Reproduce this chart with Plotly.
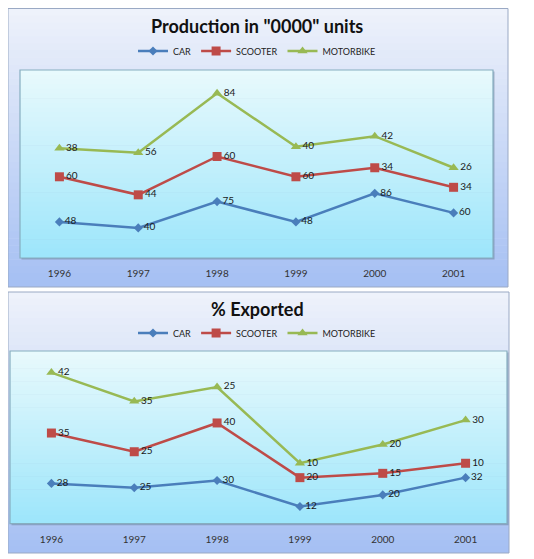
import plotly.graph_objects as go
import numpy as np

years = ['1996', '1997', '1998', '1999', '2000', '2001']
series_names = ['CAR', 'SCOOTER', 'MOTORBIKE']

prod_car = [48, 40, 75, 48, 86, 60]
prod_scooter = [60, 44, 60, 60, 34, 34]
prod_motorbike = [38, 56, 84, 40, 42, 26]

exp_car = [28, 25, 30, 12, 20, 32]
exp_scooter = [35, 25, 40, 20, 15, 10]
exp_motorbike = [42, 35, 25, 10, 20, 30]

title_top = 'Production in "0000" units'
title_bottom = '% Exported'

colors = ['#4a7ebb', '#be4b48', '#98b954']
symbols = ['diamond', 'square', 'triangle-up']
msizes = [7, 9, 9]

# the page body has an 8px margin, so the figure is offset by 8px
OFF = 8
W, H = 534 - OFF, 559 - OFF
FONT = 'Lato'


def px(x):
    return (x - OFF) / W


def py(y):
    return 1 - (y - OFF) / H


fig = go.Figure()

shapes = []


def hexrgb(h):
    h = h.lstrip('#')
    return np.array([int(h[i:i + 2], 16) for i in (0, 2, 4)], dtype=float)


def gradient(x0, y0, x1, y1, ctop, cbot, n=40):
    a, b = hexrgb(ctop), hexrgb(cbot)
    for i in range(n):
        t = i / (n - 1)
        c = a + (b - a) * t
        ya = y0 + (y1 - y0) * i / n
        yb = y0 + (y1 - y0) * (i + 1) / n + 0.6
        shapes.append(dict(type='rect', xref='paper', yref='paper', layer='below',
                           x0=px(x0), x1=px(x1), y0=py(ya), y1=py(min(yb, y1)),
                           line=dict(width=0),
                           fillcolor='rgb(%d,%d,%d)' % tuple(c)))


def frame(x0, y0, x1, y1, color, width=1):
    shapes.append(dict(type='rect', xref='paper', yref='paper', layer='below',
                       x0=px(x0), x1=px(x1), y0=py(y0), y1=py(y1),
                       line=dict(width=width, color=color), fillcolor='rgba(0,0,0,0)'))


# panel geometry (pixels in the 534x559 window)
panels = [
    dict(outer=(8, 8.5, 508, 287), plot=(20, 70, 493, 258), title_y=26, legend_y=51,
         data=[prod_car, prod_scooter, prod_motorbike], yr=250, title=title_top),
    dict(outer=(8, 292, 509, 553), plot=(10, 351, 507, 523.7), title_y=309, legend_y=333,
         data=[exp_car, exp_scooter, exp_motorbike], yr=120, title=title_bottom),
]

annotations = []
layout_axes = {}
for k, p in enumerate(panels):
    ox0, oy0, ox1, oy1 = p['outer']
    gradient(ox0, oy0, ox1, oy1, '#eef2fb', '#a6c0f3')
    frame(ox0, oy0, ox1, oy1, '#9aa9c4')
    x0, y0, x1, y1 = p['plot']
    # shadow
    shapes.append(dict(type='rect', xref='paper', yref='paper', layer='below',
                       x0=px(x0 + 1.5), x1=px(x1 + 1.5), y0=py(y0 + 1.5), y1=py(y1 + 1.5),
                       line=dict(width=0), fillcolor='rgba(90,110,140,0.45)'))
    gradient(x0, y0, x1, y1, '#e8fafd', '#9ee6fb')
    frame(x0, y0, x1, y1, '#86aec0', 1.2)

    xa = 'x' if k == 0 else 'x2'
    ya = 'y' if k == 0 else 'y2'
    leg = 'legend' if k == 0 else 'legend2'
    cum = np.cumsum(np.array(p['data']), axis=0)
    for i, name in enumerate(series_names):
        fig.add_trace(go.Scatter(
            x=years, y=cum[i], name=name, xaxis=xa, yaxis=ya, legend=leg,
            mode='lines+markers+text',
            text=[str(v) for v in p['data'][i]],
            textposition='middle right',
            textfont=dict(family=FONT, size=10, color='#1a1a1a'),
            line=dict(color=colors[i], width=2.5),
            marker=dict(symbol=symbols[i], size=msizes[i], color=colors[i]),
            cliponaxis=False,
        ))
    axkey = '' if k == 0 else '2'
    layout_axes['xaxis' + axkey] = dict(
        domain=[px(x0), px(x1)], anchor=ya, type='category',
        range=[-0.5, 5.5], showgrid=False, zeroline=False, showline=False,
        ticks='outside', ticklen=6, tickcolor='rgba(0,0,0,0)',
        tickfont=dict(family=FONT, size=10, color='#333'), fixedrange=True)
    layout_axes['yaxis' + axkey] = dict(
        domain=[py(y1), py(y0)], anchor=xa, range=[0, p['yr']],
        showgrid=False, zeroline=False, showline=False, showticklabels=False,
        ticks='', fixedrange=True)
    annotations.append(dict(text='<b>%s</b>' % p['title'], xref='paper', yref='paper',
                            x=px(257), y=py(p['title_y']), xanchor='center', yanchor='middle',
                            showarrow=False, font=dict(family=FONT, size=18, color='#111')))
    layout_axes[leg] = dict(orientation='h', x=px(257), y=py(p['legend_y']),
                            xanchor='center', yanchor='middle', bgcolor='rgba(0,0,0,0)',
                            font=dict(family=FONT, size=9, color='#222'),
                            itemwidth=30, tracegroupgap=0)

fig.update_layout(
    width=W, height=H, margin=dict(l=0, r=0, t=0, b=0),
    paper_bgcolor='white', plot_bgcolor='rgba(0,0,0,0)',
    shapes=shapes, annotations=annotations, showlegend=True,
    **layout_axes,
)

fig.write_html('out.html')
